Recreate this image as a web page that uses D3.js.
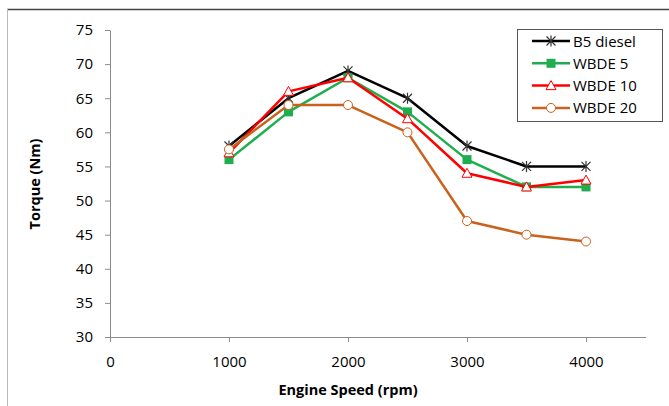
<!DOCTYPE html>
<html><head><meta charset="utf-8">
<script src="https://cdn.jsdelivr.net/npm/d3@7"></script>
<style>body{margin:0;background:#fff}svg{display:block}</style>
</head><body>
<svg id="c" width="669" height="406"></svg>
<script>
const speeds = [1000, 1500, 2000, 2500, 3000, 3500, 4000];
const b5diesel = [58, 65, 69, 65, 58, 55, 55];
const wbde5 = [56, 63, 68, 63, 56, 52, 52];
const wbde10 = [57, 66, 68, 62, 54, 52, 53];
const wbde20 = [57.5, 64, 64, 60, 47, 45, 44];
const seriesNames = ["B5 diesel", "WBDE 5", "WBDE 10", "WBDE 20"];
const xTicks = [0, 1000, 2000, 3000, 4000];
const yTicks = [30, 35, 40, 45, 50, 55, 60, 65, 70, 75];

const series = [
  {name: seriesNames[0], values: b5diesel, color: "#000000", marker: "star"},
  {name: seriesNames[1], values: wbde5, color: "#1fae4f", marker: "square"},
  {name: seriesNames[2], values: wbde10, color: "#ff0000", marker: "triangle"},
  {name: seriesNames[3], values: wbde20, color: "#c8621c", marker: "circle"}
];

const svg = d3.select("#c");
const font = "'Open Sans', 'Liberation Sans', sans-serif";

// outer frame
svg.append("line").attr("x1", 7).attr("x2", 669).attr("y1", 9.5).attr("y2", 9.5).attr("stroke", "#444").attr("stroke-width", 1.5);
svg.append("line").attr("x1", 7.5).attr("x2", 7.5).attr("y1", 9).attr("y2", 406).attr("stroke", "#bbb").attr("stroke-width", 1);

const x = d3.scaleLinear().domain([0, 4500]).range([110, 645.5]);
const y = d3.scaleLinear().domain([30, 75]).range([337, 30]);

const xAxis = svg.append("g").attr("transform", "translate(0,337)")
  .call(d3.axisBottom(x).tickValues(xTicks).tickFormat(d3.format("d")).tickSize(5).tickPadding(14).tickSizeOuter(0));
const yAxis = svg.append("g").attr("transform", "translate(110,0)")
  .call(d3.axisLeft(y).tickValues(yTicks).tickFormat(d3.format("d")).tickSize(5).tickPadding(12).tickSizeOuter(0));
[xAxis, yAxis].forEach(g => {
  g.select(".domain").attr("stroke", "#8c8c8c");
  g.selectAll(".tick line").attr("stroke", "#8c8c8c");
  g.selectAll("text").attr("font-family", font).attr("font-size", 15).attr("fill", "#000");
});

svg.append("text").attr("x", 348).attr("y", 395).attr("text-anchor", "middle")
  .attr("font-family", font).attr("font-size", 14.5).attr("font-weight", "bold").text("Engine Speed (rpm)");
svg.append("text").attr("transform", "translate(40,184) rotate(-90)").attr("text-anchor", "middle")
  .attr("font-family", font).attr("font-size", 14.5).attr("font-weight", "bold").text("Torque (Nm)");

function drawMarker(g, type, color, cx, cy) {
  if (type === "star") {
    const r = 4.5;
    g.append("path").attr("d",
      `M${cx - r},${cy - r}L${cx + r},${cy + r}M${cx - r},${cy + r}L${cx + r},${cy - r}M${cx},${cy - r - 1}L${cx},${cy + r + 1}`)
      .attr("stroke", "#333").attr("stroke-width", 1.2).attr("fill", "none");
  } else if (type === "square") {
    g.append("rect").attr("x", cx - 4.5).attr("y", cy - 4.5).attr("width", 9).attr("height", 9).attr("fill", color);
  } else if (type === "triangle") {
    g.append("path").attr("d", `M${cx},${cy - 5}L${cx + 5},${cy + 4}L${cx - 5},${cy + 4}Z`)
      .attr("fill", "#fff").attr("stroke", color).attr("stroke-width", 1);
  } else {
    g.append("circle").attr("cx", cx).attr("cy", cy).attr("r", 4.5)
      .attr("fill", "#fff").attr("stroke", color).attr("stroke-width", 1);
  }
}

const line = d3.line().x((d, i) => x(speeds[i])).y(d => y(d));
series.forEach(s => {
  const g = svg.append("g");
  g.append("path").datum(s.values).attr("d", line).attr("fill", "none")
    .attr("stroke", s.color).attr("stroke-width", 2.5).attr("stroke-linejoin", "round");
  s.values.forEach((v, i) => drawMarker(g, s.marker, s.color, x(speeds[i]), y(v)));
});

// legend
const lg = svg.append("g");
lg.append("rect").attr("x", 517.5).attr("y", 29.5).attr("width", 145).attr("height", 92)
  .attr("fill", "#fff").attr("stroke", "#555").attr("stroke-width", 1);
series.forEach((s, i) => {
  const yy = 41 + i * 22.3;
  lg.append("line").attr("x1", 532).attr("x2", 570).attr("y1", yy).attr("y2", yy)
    .attr("stroke", s.color).attr("stroke-width", 2.5);
  drawMarker(lg, s.marker, s.color, 551, yy);
  lg.append("text").attr("x", 573).attr("y", yy + 5.5).attr("font-family", font)
    .attr("font-size", 15).attr("fill", "#000").text(s.name);
});
</script>
</body></html>
